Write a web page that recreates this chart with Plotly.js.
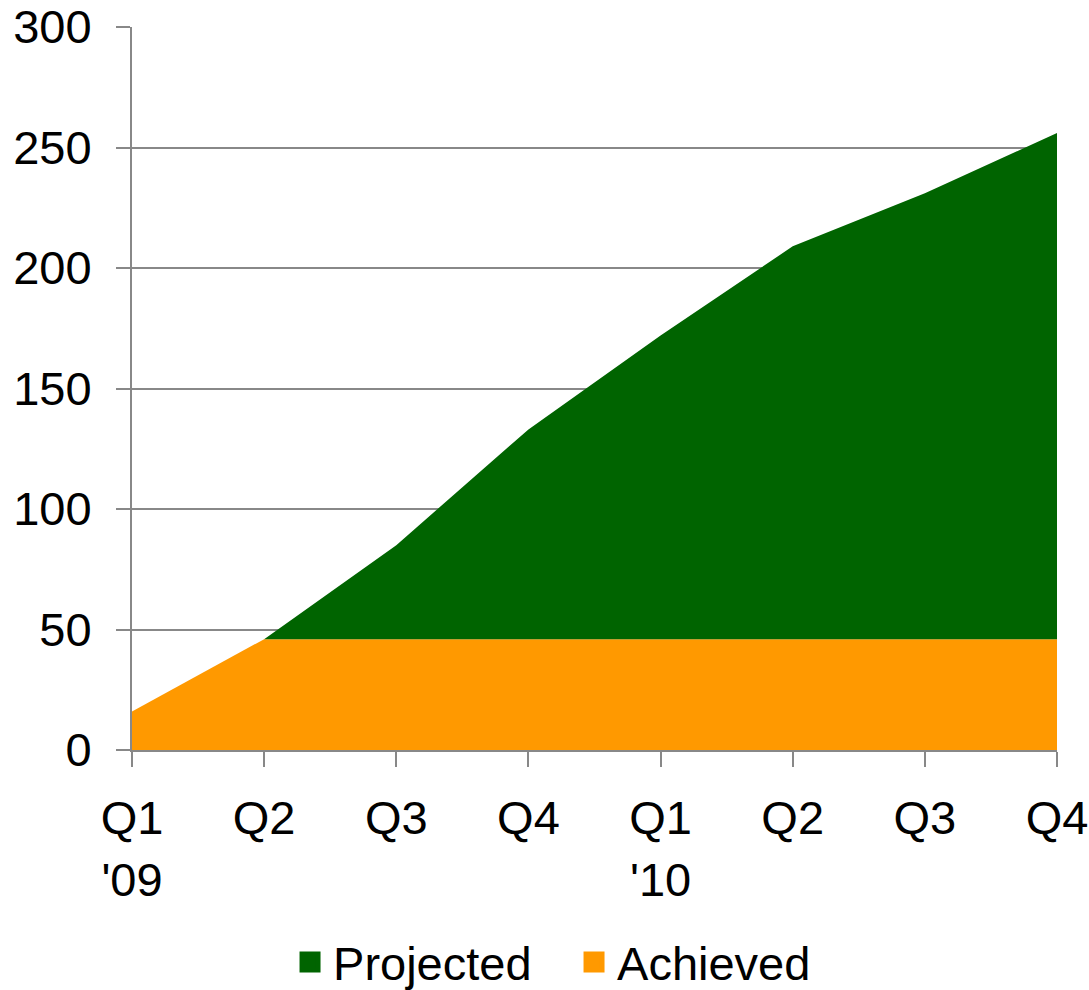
<!DOCTYPE html>
<html>
<head>
<meta charset="utf-8">
<script src="https://cdn.plot.ly/plotly-3.0.1.min.js"></script>
<style>html,body{margin:0;padding:0;background:#fff;}#chart{width:1089px;height:990px;}</style>
</head>
<body>
<div id="chart"></div>
<script>
const categories = ["Q1 '09","Q2 '09","Q3 '09","Q4 '09","Q1 '10","Q2 '10","Q3 '10","Q4 '10"];
const tickLabels = ["Q1<br>'09","Q2","Q3","Q4","Q1<br>'10","Q2","Q3","Q4"];
const achieved = [16, 46, 46, 46, 46, 46, 46, 46];
const projectedTotal = [16, 46, 85, 133, 172, 209, 231, 256];
const yTicks = [0, 50, 100, 150, 200, 250, 300];
const seriesNames = ["Projected", "Achieved"];
const seriesColors = ["#006400", "#FF9900"];

const traces = [
  {
    x: categories, y: achieved, name: "Achieved", type: "scatter", mode: "lines",
    fill: "tozeroy", fillcolor: "#FF9900", line: {width: 0, color: "#FF9900"},
    showlegend: false
  },
  {
    x: categories, y: projectedTotal, name: "Projected", type: "scatter", mode: "lines",
    fill: "tonexty", fillcolor: "#006400", line: {width: 0, color: "#006400"},
    showlegend: false
  }
];
seriesNames.forEach((n, i) => {
  traces.push({
    x: [null], y: [null], name: n, type: "scatter", mode: "markers",
    marker: {symbol: "square", size: 22, color: seriesColors[i], line: {width: 6, color: seriesColors[i]}},
    showlegend: true, legendrank: i + 1
  });
});

const layout = {
  width: 1089, height: 990,
  margin: {l: 132, r: 32, t: 27, b: 240, autoexpand: false},
  paper_bgcolor: "#fff", plot_bgcolor: "#fff",
  font: {family: "Liberation Sans, Arial, sans-serif", size: 47, color: "#000"},
  showlegend: true,
  legend: {
    orientation: "h", x: 0.1676, xanchor: "left", y: -0.242, yanchor: "top",
    font: {size: 47}, traceorder: "normal", itemwidth: 36, entrywidth: 233
  },
  xaxis: {
    type: "category", range: [0, 7],
    tickmode: "array", tickvals: categories, ticktext: tickLabels,
    showgrid: false, showline: true, linecolor: "#888", linewidth: 2,
    ticks: "outside", ticklen: 15, tickwidth: 2, tickcolor: "#888",
    ticklabelstandoff: 11, zeroline: false, fixedrange: true
  },
  yaxis: {
    range: [0, 300], tickmode: "array", tickvals: yTicks,
    showgrid: true, gridcolor: "#888", gridwidth: 2,
    showline: true, linecolor: "#888", linewidth: 2,
    ticks: "outside", ticklen: 14, tickwidth: 2, tickcolor: "#888",
    ticklabelstandoff: 15, zeroline: false, fixedrange: true
  }
};

Plotly.newPlot("chart", traces, layout, {displayModeBar: false, staticPlot: true});
</script>
</body>
</html>
